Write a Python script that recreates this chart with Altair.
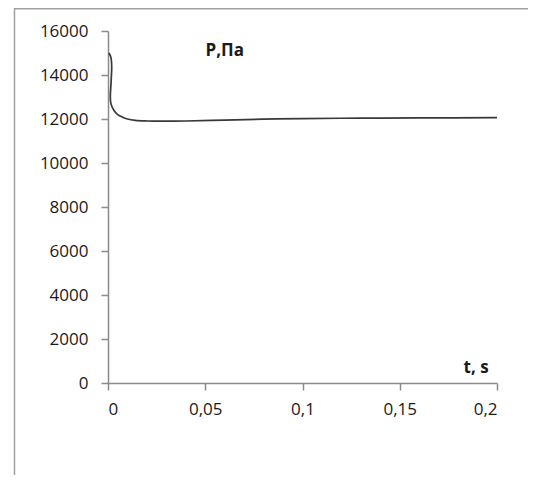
import altair as alt
import pandas as pd

t_vals = [0.0005, 0.0015, 0.0019, 0.0016, 0.0012, 0.0015, 0.0030, 0.0050, 0.0075, 0.0100,
          0.0140, 0.0200, 0.0280, 0.0400, 0.0600, 0.0800, 0.1000, 0.1300, 0.1600, 0.2000]
p_vals = [15000, 14800, 14400, 13700, 13000, 12700, 12400, 12200, 12080, 12000,
          11940, 11910, 11900, 11910, 11950, 11990, 12020, 12040, 12050, 12060]
x_ticks = [0, 0.05, 0.1, 0.15, 0.2]
y_ticks = [0, 2000, 4000, 6000, 8000, 10000, 12000, 14000, 16000]

df = pd.DataFrame({"t": t_vals, "P": p_vals, "i": list(range(len(t_vals)))})

FONT = "Open Sans"
FS = 17
W, H = 389, 352
AX = "#8a8a8a"
TXT = "#1a1a1a"

line = alt.Chart(df).mark_line(color="#383838", strokeWidth=1.7, interpolate="catmull-rom").encode(
    x=alt.X("t:Q", scale=alt.Scale(domain=[0, 0.2], nice=False),
            axis=alt.Axis(values=x_ticks, title="t, s",
                          labelExpr="replace(format(datum.value, '.2~f'), '.', ',')",
                          grid=False, domainColor=AX, tickColor=AX, tickSize=7, domainWidth=1.5, tickWidth=1.5,
                          labelFont=FONT, labelFontSize=FS, labelColor=TXT, labelPadding=11,
                          titleFont=FONT, titleFontSize=FS, titleFontWeight="bold", titleColor=TXT,
                          titleAngle=0, titleAlign="left", titleBaseline="alphabetic",
                          titleX=355, titleY=-11)),
    y=alt.Y("P:Q", scale=alt.Scale(domain=[0, 16000], nice=False),
            axis=alt.Axis(values=y_ticks, title="P,Па", format="d",
                          grid=False, domainColor=AX, tickColor=AX, tickSize=7, domainWidth=1.5, tickWidth=1.5,
                          labelFont=FONT, labelFontSize=FS, labelColor=TXT, labelPadding=13,
                          titleFont=FONT, titleFontSize=FS, titleFontWeight="bold", titleColor=TXT,
                          titleAngle=0, titleAlign="left", titleBaseline="alphabetic",
                          titleX=97, titleY=24)),
    order="i:Q",
)

frame = alt.Chart(pd.DataFrame({"k": [0]})).mark_rect(
    fill="transparent", stroke="#a0a0a0", strokeWidth=1.5, clip=False).encode(
    x=alt.value(-93.5), x2=alt.value(W + 80), y=alt.value(-22.2), y2=alt.value(H + 160))

chart = alt.layer(frame, line).properties(
    width=W, height=H,
    autosize=alt.AutoSizeParams(type="none"),
    padding={"left": 100, "top": 23, "right": 31, "bottom": 92},
).configure(background="white").configure_view(strokeWidth=0)

chart.save("out.html", embed_options={"renderer": "svg", "actions": False})
